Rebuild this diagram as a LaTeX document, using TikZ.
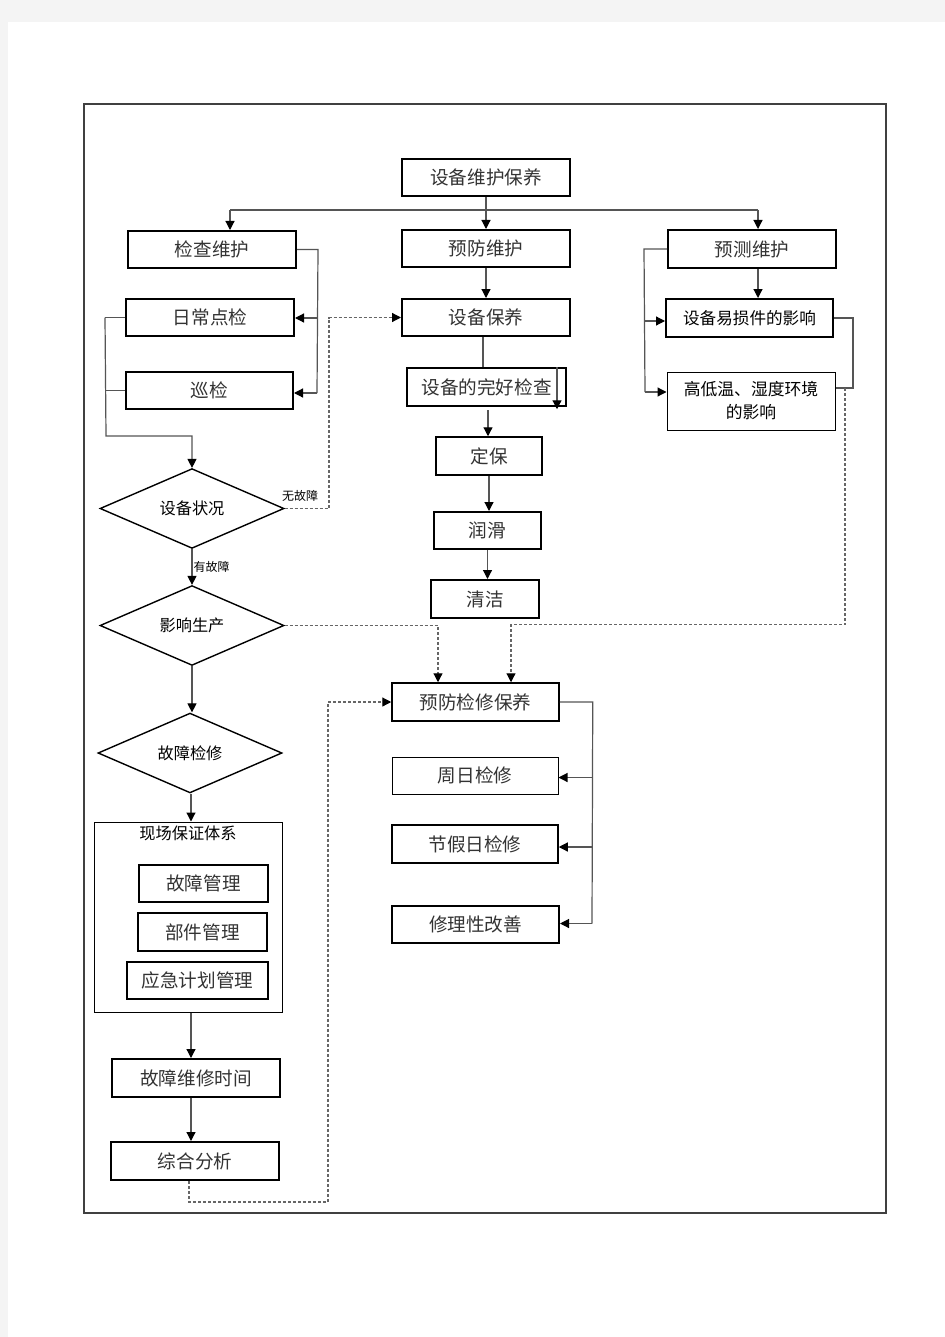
\documentclass[tikz,border=0pt]{standalone}
\usepackage{fontspec}
\setmainfont{Noto Sans CJK SC}
\usetikzlibrary{arrows.meta,shapes.geometric}
\definecolor{txt}{HTML}{333333}
\definecolor{lc}{HTML}{555555}
\definecolor{dc}{HTML}{666666}
\definecolor{pagebg}{HTML}{F4F4F4}
\begin{document}
\begin{tikzpicture}[x=0.5pt,y=-0.5pt,
  box/.style={draw=black, inner sep=0pt, text=txt, font=\fontsize{9.3}{11}\selectfont},
  rect/.style n args={4}{minimum width={(#3-#1)*0.5pt}, minimum height={(#4-#2)*0.5pt}, at={({(#1+#3)/2},{(#2+#4)/2})}},
  thk/.style={line width=1pt},
  med/.style={line width=0.75pt},
  thn/.style={line width=0.5pt},
  dia/.style={diamond, draw=black, line width=0.7pt, inner sep=0pt, minimum width=92pt, minimum height=35.5pt, font=\fontsize{8.1}{10}\selectfont},
  lnk/.style={draw=lc, line width=0.6pt},
  arr/.style={lnk, -{Triangle[length=4.5pt,width=4.5pt,color=black]}},
  dln/.style={draw=dc, line width=0.6pt, dash pattern=on 1.5pt off 1pt},
  darr/.style={dln, -{Triangle[length=4.5pt,width=4.5pt,color=black]}},
  small/.style={font=\fontsize{6}{7}\selectfont, inner sep=0.5pt}
]
\useasboundingbox (0,0) rectangle (945,1337);
\fill[pagebg] (0,0) rectangle (945,1337);
\fill[white] (8,22) rectangle (945,1337);
\draw[line width=0.8pt, draw=black!75] (84,104) rectangle (886,1213);

% boxes
\node[box,thk,rect={402}{159}{570}{196}] (top) {设备维护保养};
\node[box,thk,rect={128}{231}{296}{268}] (jc) {检查维护};
\node[box,thk,rect={402}{230}{570}{267}] (yf) {预防维护};
\node[box,thk,rect={668}{230}{836}{268}] (yc) {预测维护};
\node[box,thk,rect={126}{299}{294}{336}] (rc) {日常点检};
\node[box,thk,rect={126}{372}{293}{409}] (xj) {巡检};
\node[box,thk,rect={402}{299}{570}{336}] (by) {设备保养};
\node[box,med,rect={407}{368}{566}{406}] (wh) {设备的完好检查};
\node[box,med,rect={436}{437}{542}{475}] (db) {定保};
\node[box,thk,rect={434}{512}{541}{549}] (rh) {润滑};
\node[box,thk,rect={431}{580}{539}{618}] (qj) {清洁};
\node[box,thk,rect={666}{299}{833}{337},text=black,font=\fontsize{8.3}{10}\selectfont] (ys) {设备易损件的影响};
\node[box,thn,rect={667}{372}{835}{430},text=black,align=center,font=\fontsize{8.4}{11.5}\selectfont] (gd) {高低温、湿度环境\\的影响};

\node[dia] (zk) at (192,508.5) {设备状况};
\node[dia] (yx) at (192,625.5) {影响生产};
\node[dia] (gz) at (190,753) {故障检修};

\node[box,thn,rect={94}{822}{282}{1012}] (xc) {};
\node[inner sep=0pt,font=\fontsize{8.1}{10}\selectfont] (xct) at (188,833) {现场保证体系};
\node[box,med,rect={139}{865}{268}{902}] (gl) {故障管理};
\node[box,med,rect={138}{913}{267}{951}] (bj) {部件管理};
\node[box,thk,rect={127}{962}{268}{999}] (yj) {应急计划管理};
\node[box,thk,rect={112}{1059}{280}{1097}] (wx) {故障维修时间};
\node[box,thk,rect={111}{1142}{279}{1180}] (fx) {综合分析};

\node[box,med,rect={392}{683}{559}{721}] (ybj) {预防检修保养};
\node[box,thn,rect={392}{757}{558}{794}] (zr) {周日检修};
\node[box,med,rect={392}{825}{558}{863}] (jj) {节假日检修};
\node[box,thk,rect={392}{906}{559}{943}] (xl) {修理性改善};

% coordinates
\coordinate (hl) at (230,210);
\coordinate (hr) at (758,210);
\coordinate (lb2) at (106,436);
\coordinate (zkin) at (192,436);
\coordinate (nf) at (329,508.5);
\coordinate (d1) at (438,625.5);
\coordinate (vx) at (191,0);
\coordinate (vd) at (189,1202);
\coordinate (vd2) at (328,1202);
\coordinate (v483) at (483,0);
\coordinate (v557) at (557,0);
\coordinate (w1) at (488,410);
\coordinate (g392) at (645,392);
\coordinate (r388) at (853,388);
\coordinate (dd1) at (845,388);
\coordinate (dd2) at (845,624.5);
\coordinate (dd3) at (511,624.5);
\coordinate (j318) at (317,318);
\coordinate (j393) at (317,393);
\coordinate (y321) at (645,321);
\coordinate (p777) at (592,777.5);
\coordinate (p847) at (592,847);
\coordinate (p923) at (592,923.5);

% top distribution
\draw[arr] (top.south) -- (yf.north);
\draw[lnk] (hl) -- (hr);
\draw[arr] (hl) -- (hl |- jc.north);
\draw[arr] (hr) -- (hr |- yc.north);

% check maintenance bracket
\draw[lnk] (jc.east) -- ++(21,0) coordinate (jb) -- (j393);
\draw[arr] (j318) -- (j318 -| rc.east);
\draw[arr] (j393) -- (j393 -| xj.east);

% left collector to 设备状况
\draw[lnk] (rc.west) -- ++(-20,0) coordinate (lb);
\draw[lnk] (xj.west) -- (xj.west -| lb);
\draw[arr] (lb) -- (lb2) -- (zkin) -- (zk.north);

% 无故障
\draw[darr] (zk.east) -- (nf) |- (by.west);
\node[small,anchor=south] (nfl) at (300,503) {无故障};

% 有故障
\draw[arr] (zk.south) -- (yx.north) node[small,midway,anchor=west] (yfl) {有故障};

% 影响生产 dotted
\draw[darr] (yx.east) -- (d1) -- (d1 |- ybj.north);

% left vertical chain
\draw[arr] (yx.south) -- (yx.south |- gz.north);
\draw[arr] (gz.south -| vx) -- (xc.north -| vx);
\draw[arr] (xc.south -| vx) -- (wx.north -| vx);
\draw[arr] (wx.south -| vx) -- (fx.north -| vx);

% 综合分析 dotted return
\draw[darr] (fx.south -| vd) -- (vd) -- (vd2) |- (ybj.west);

% preventive chain
\draw[arr] (yf.south) -- (by.north);
\draw[lnk] (by.south -| v483) -- (wh.north -| v483);
\draw[arr] (wh.north -| v557) -- ++(0,42);
\draw[arr] (w1) -- (w1 |- db.north);
\draw[arr] (db.south) -- (db.south |- rh.north);
\draw[arr] (rh.south) -- (rh.south |- qj.north);

% predictive
\draw[arr] (yc.south -| hr) -- (ys.north -| hr);
\draw[lnk] (yc.west) -- ++(-23,0) coordinate (rb) -- (g392);
\draw[arr] (y321) -- (y321 -| ys.west);
\draw[arr] (g392) -- (g392 -| gd.west);
\draw[lnk] (ys.east) -- (ys.east -| r388) -- (r388) -- (r388 -| gd.east);
\draw[darr] (dd1) -- (dd2) -- (dd3) -- (dd3 |- ybj.north);

% preventive repair bracket
\draw[lnk] (ybj.east) -- ++(33,0) coordinate (pb) -- (p923);
\draw[arr] (p777) -- (p777 -| zr.east);
\draw[arr] (p847) -- (p847 -| jj.east);
\draw[arr] (p923) -- (p923 -| xl.east);
\end{tikzpicture}
\end{document}
